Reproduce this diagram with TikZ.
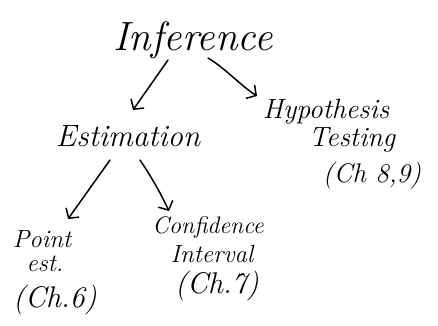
\documentclass[tikz,border=0pt]{standalone}
\usetikzlibrary{arrows.meta}
\begin{document}
\begin{tikzpicture}[x=1bp,y=-1bp,
  lbl/.style={inner sep=0pt, font=\itshape},
  arr/.style={line width=1.5bp, line cap=round, -{Straight Barb[length=7bp,width=16bp,line width=1.5bp]}}]
\useasboundingbox (0,0) rectangle (438,325);
\node[lbl, font=\fontsize{41}{43}\selectfont\itshape] (inf) at (193,40) {Inference};
\node[lbl, font=\fontsize{31}{33}\selectfont\itshape] (est) at (128,136) {Estimation};
\node[lbl, font=\fontsize{28}{30}\selectfont\itshape] (hyp) at (326,112) {Hypothesis};
\node[lbl, font=\fontsize{28}{30}\selectfont\itshape] (tst) at (352,140) {Testing};
\node[lbl, font=\fontsize{27}{29}\selectfont\itshape] (ch89) at (372,176) {(Ch 8,9)};
\node[lbl, font=\fontsize{25}{27}\selectfont\itshape] (pt) at (42,239) {Point};
\node[lbl, font=\fontsize{25}{27}\selectfont\itshape] (pest) at (45,264) {est.};
\node[lbl, font=\fontsize{30}{32}\selectfont\itshape] (ch6) at (55,300) {(Ch.6)};
\node[lbl, font=\fontsize{24}{26}\selectfont\itshape] (conf) at (208,228) {Confidence};
\node[lbl, font=\fontsize{25}{27}\selectfont\itshape] (intv) at (212,254) {Interval};
\node[lbl, font=\fontsize{30}{32}\selectfont\itshape] (ch7) at (217,286) {(Ch.7)};
\coordinate (a1s) at (168,60);
\coordinate (a2s) at (208,58);
\coordinate (a3s) at (110,160);
\coordinate (a4s) at (140,160);
\draw[arr] (a1s) -- (133,110);
\draw[arr] (a2s) .. controls (225,68) and (240,85) .. (257,96);
\draw[arr] (a3s) -- (68,219);
\draw[arr] (a4s) .. controls (152,178) and (160,192) .. (169,211);
\end{tikzpicture}
\end{document}
